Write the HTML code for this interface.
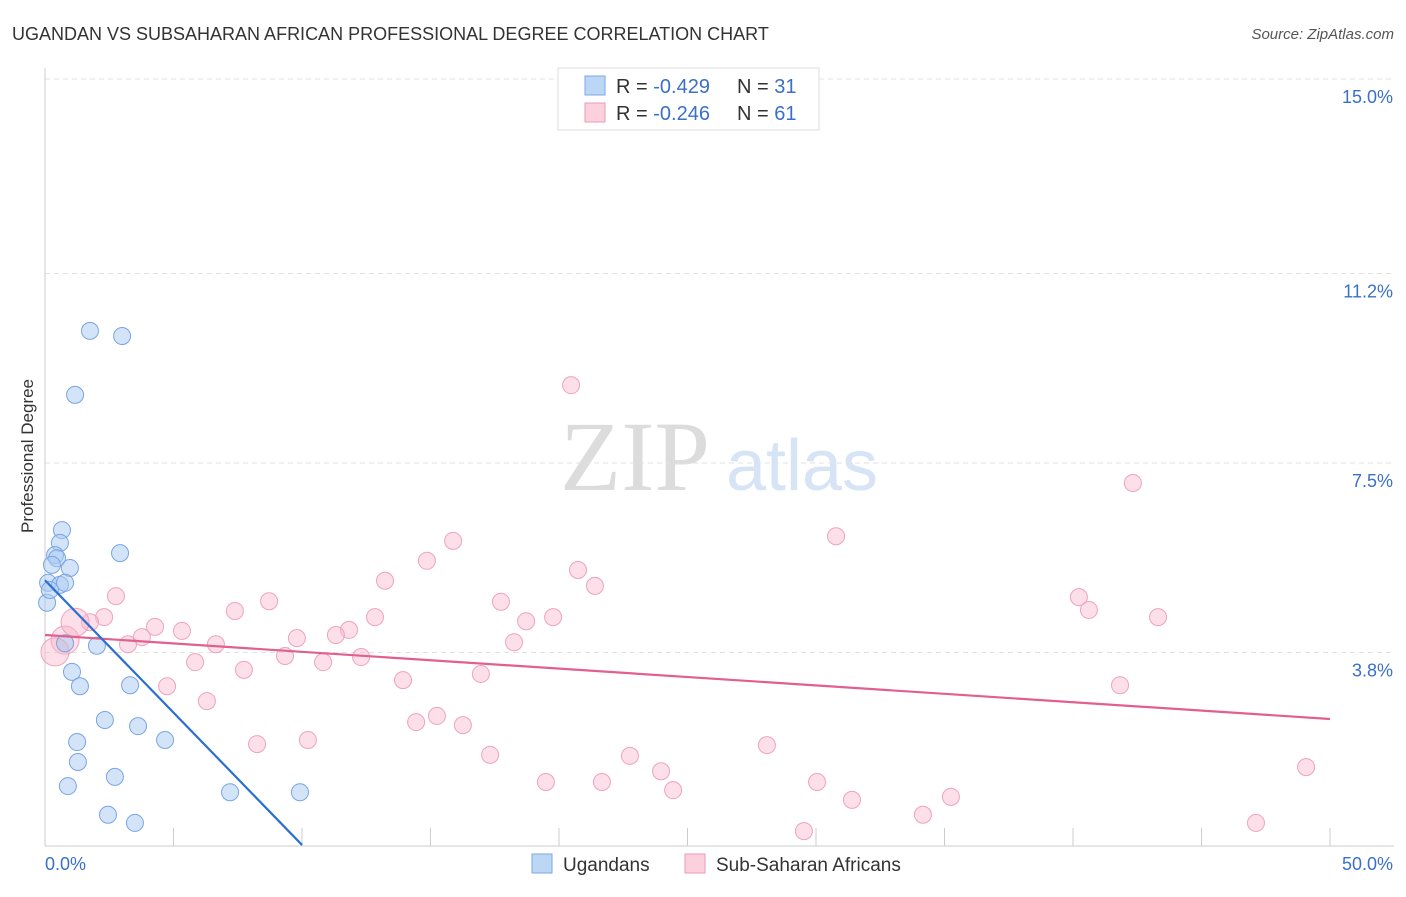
<!DOCTYPE html>
<html><head><meta charset="utf-8">
<style>
body{margin:0;background:#fff;font-family:"Liberation Sans",sans-serif;}
</style></head>
<body>
<svg id="chart" width="1406" height="892" xmlns="http://www.w3.org/2000/svg" font-family="Liberation Sans, sans-serif">
<text x="12" y="40" font-size="18" fill="#333">UGANDAN VS SUBSAHARAN AFRICAN PROFESSIONAL DEGREE CORRELATION CHART</text>
<text x="1394" y="39" font-size="15" fill="#555" text-anchor="end" font-style="italic">Source: ZipAtlas.com</text>
<text x="33" y="456" font-size="17" fill="#333" text-anchor="middle" transform="rotate(-90 33 456)">Professional Degree</text>
<g>
<text x="635" y="490" font-size="100" fill="#dcdcdc" text-anchor="middle" style="font-family:'Liberation Serif',serif">ZIP</text>
<text x="802" y="490" font-size="72" fill="#d6e4f5" text-anchor="middle">atlas</text>
</g>
<g id="grid"></g>
<g id="axes"></g>
<g id="marks"></g>
<g>
<rect x="558" y="68" width="261" height="62" fill="#fff" stroke="#ddd"/>
<rect x="585" y="76" width="20" height="19" fill="#bcd6f6" stroke="#7aa8e6"/>
<text x="616" y="93" font-size="20" fill="#333">R = <tspan fill="#3a70c8">-0.429</tspan></text>
<text x="737" y="93" font-size="20" fill="#333">N = <tspan fill="#3a70c8">31</tspan></text>
<rect x="585" y="103" width="20" height="19" fill="#fcd0dc" stroke="#ee9ab4"/>
<text x="616" y="120" font-size="20" fill="#333">R = <tspan fill="#3a70c8">-0.246</tspan></text>
<text x="737" y="120" font-size="20" fill="#333">N = <tspan fill="#3a70c8">61</tspan></text>
</g>
<g>
<rect x="532" y="854" width="20" height="19" fill="#bcd6f6" stroke="#7aa8e6"/>
<text x="563" y="871" font-size="19" fill="#333">Ugandans</text>
<rect x="685" y="854" width="20" height="19" fill="#fcd0dc" stroke="#ee9ab4"/>
<text x="716" y="871" font-size="19" fill="#333">Sub-Saharan Africans</text>
</g>
</svg>
<script>
const yTicks=[3.8,7.5,11.2,15.0];
const yTickLabels=["3.8%","7.5%","11.2%","15.0%"];
const xTicks=[0,5,10,15,20,25,30,35,40,45,50];
const ugX=[1.75,3.0,1.17,0.66,0.58,0.39,0.47,2.92,0.97,0.27,0.12,0.58,0.78,0.08,0.19,0.78,2.02,1.05,1.36,3.31,2.33,3.62,1.25,4.67,1.28,2.72,0.89,7.2,9.92,2.45,3.5];
const ugY=[10.08,9.98,8.83,6.19,5.94,5.70,5.64,5.74,5.45,5.51,5.16,5.12,5.16,4.77,5.02,3.98,3.93,3.42,3.14,3.16,2.48,2.36,2.05,2.09,1.66,1.37,1.19,1.07,1.07,0.63,0.47];
const ssX=[20.47,42.33,30.78,15.88,14.86,20.74,13.23,21.4,2.76,8.72,17.74,40.23,40.62,7.39,2.3,12.84,19.77,43.31,1.75,18.72,4.28,5.33,11.83,11.32,3.77,9.8,3.23,6.65,18.25,0.78,0.39,1.17,9.34,12.3,5.84,10.82,7.74,16.96,13.93,4.75,41.83,6.3,15.25,14.44,16.26,10.23,8.25,28.09,17.32,22.76,49.07,23.97,19.49,21.67,30.04,24.44,31.4,35.25,34.16,47.12,29.53];
const ssY=[9.02,7.11,6.07,5.98,5.59,5.41,5.2,5.1,4.9,4.8,4.79,4.88,4.63,4.61,4.49,4.49,4.49,4.49,4.39,4.41,4.3,4.22,4.24,4.14,4.1,4.08,3.96,3.96,4.0,4.04,3.81,4.39,3.73,3.71,3.61,3.61,3.46,3.38,3.26,3.14,3.16,2.85,2.56,2.44,2.38,2.09,2.01,1.99,1.8,1.78,1.56,1.48,1.27,1.27,1.27,1.11,0.92,0.98,0.63,0.47,0.31];
const ssBig=[29,30,31];
const ugTrend=[[0,5.21],[10,0.04]];
const ssTrend=[[0,4.14],[50,2.5]];
const NS="http://www.w3.org/2000/svg";
const xs=v=>45+v*25.7, ys=v=>847-v*51.2;
function mk(t,a,p){const e=document.createElementNS(NS,t);for(const k in a)e.setAttribute(k,a[k]);p.appendChild(e);return e;}
const grid=document.getElementById('grid'),axes=document.getElementById('axes'),marks=document.getElementById('marks');
yTicks.forEach((t,i)=>{
 const l=mk('line',{x1:45,x2:1394,y1:ys(t),y2:ys(t),stroke:'#e2e2e2','stroke-dasharray':'5,4'},grid);
 
 
 const tx=mk('text',{x:1393,y:ys(t)+24,'font-size':18,fill:'#3a70c8','text-anchor':'end'},axes);
 tx.textContent=yTickLabels[i];
 
 
});
let ax=mk('line',{x1:45,x2:45,y1:68,y2:846,stroke:'#ccc'},axes);


ax=mk('line',{x1:45,x2:1394,y1:846,y2:846,stroke:'#ccc'},axes);


xTicks.forEach(t=>{const l=mk('line',{x1:xs(t),x2:xs(t),y1:828,y2:846,stroke:'#ccc'},axes);
 
 });
let xl=mk('text',{x:45,y:870,'font-size':18,fill:'#3a70c8'},axes);xl.textContent="0.0%";


xl=mk('text',{x:1393,y:870,'font-size':18,fill:'#3a70c8','text-anchor':'end'},axes);xl.textContent="50.0%";


ssX.forEach((v,i)=>{const big=ssBig.includes(i);
 const c=mk('circle',{cx:xs(v),cy:ys(ssY[i]),r:big?14:8.5,fill:'rgba(248,185,205,0.45)',stroke:'#eea3bd','stroke-width':1},marks);
 
 });
ugX.forEach((v,i)=>{const c=mk('circle',{cx:xs(v),cy:ys(ugY[i]),r:8.5,fill:'rgba(170,202,242,0.5)',stroke:'#78a5e4','stroke-width':1},marks);
 
 });
let tl=mk('line',{x1:xs(ssTrend[0][0]),y1:ys(ssTrend[0][1]),x2:xs(ssTrend[1][0]),y2:ys(ssTrend[1][1]),stroke:'#e0608f','stroke-width':2.2},marks);


tl=mk('line',{x1:xs(ugTrend[0][0]),y1:ys(ugTrend[0][1]),x2:xs(ugTrend[1][0]),y2:ys(ugTrend[1][1]),stroke:'#2b6fd0','stroke-width':2.2},marks);


</script>
</body></html>
